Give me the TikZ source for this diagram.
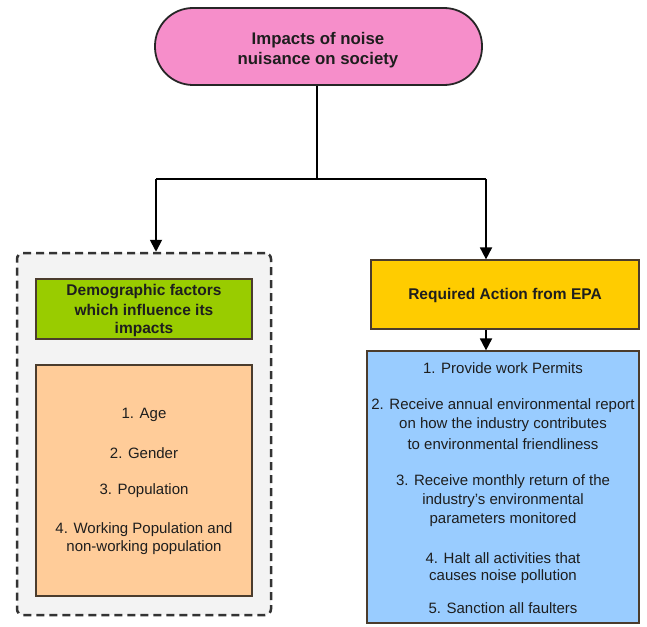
\documentclass[tikz,border=0pt]{standalone}
\usepackage{fontspec}
\setmainfont{Liberation Sans}
\usetikzlibrary{arrows.meta}
\definecolor{pinkfill}{RGB}{246,142,202}
\definecolor{greenfill}{RGB}{153,204,0}
\definecolor{orangefill}{RGB}{255,204,153}
\definecolor{yellowfill}{RGB}{255,204,0}
\definecolor{bluefill}{RGB}{153,204,255}
\definecolor{grayfill}{RGB}{243,243,243}
\definecolor{edge}{RGB}{75,60,45}
\definecolor{ink}{RGB}{30,30,30}
\tikzset{
  boxnode/.style={draw=edge, line width=1.2pt, inner sep=0pt},
  txt/.style={text=ink, font=\fontsize{15}{18}\selectfont, inner sep=0pt, anchor=center},
  btxt/.style={text=ink, font=\fontsize{15.5}{18}\selectfont\bfseries, inner sep=0pt, anchor=center},
  ptxt/.style={text=ink, font=\fontsize{16.8}{20}\selectfont\bfseries, inner sep=0pt, anchor=center},
  conn/.style={line width=1.8pt, draw=black},
  arr/.style={conn, -{Triangle[length=12pt,width=12pt]}},
}
\begin{document}
\begin{tikzpicture}[x=1pt,y=-1pt]
\useasboundingbox (0,0) rectangle (647,626);
% top pill
\node[draw=black!85, line width=1.8pt, fill=pinkfill, rounded corners=38pt,
      minimum width=327pt, minimum height=77pt, inner sep=0pt] (top) at (318.5,46.5) {};
\node[ptxt] (t1) at (318,40) {Impacts of noise};
\node[ptxt] (t2) at (318,60) {nuisance on society};
% dashed group
\node[draw=black!80, line width=2.5pt, dash pattern=on 8pt off 5pt, fill=grayfill,
      rounded corners=6pt, minimum width=254pt, minimum height=362pt, inner sep=0pt] (dash) at (144,434) {};
\node[boxnode, fill=greenfill, minimum width=216pt, minimum height=60pt] (demo) at (144,309) {};
\node[btxt] (d1) at (144,292) {Demographic factors};
\node[btxt] (d2) at (144,310) {which influence its};
\node[btxt] (d3) at (144,329) {impacts};
\node[boxnode, fill=orangefill, minimum width=216pt, minimum height=231pt] (fac) at (144,480.5) {};
\node[txt] (f1) at (144,415) {1. Age};
\node[txt] (f2) at (144,453) {2. Gender};
\node[txt] (f3) at (144,491) {3. Population};
\node[txt] (f4a) at (144,530) {4. Working Population and};
\node[txt] (f4b) at (144,548) {non-working population};
% right side
\node[boxnode, fill=yellowfill, minimum width=268pt, minimum height=69pt] (epa) at (505,294.5) {};
\node[btxt] (e1) at (505,295) {Required Action from EPA};
\node[boxnode, fill=bluefill, minimum width=272pt, minimum height=272pt] (act) at (503,487) {};
\node[txt] (a1) at (503,368) {1. Provide work Permits};
\node[txt] (a2a) at (503,406) {2. Receive annual environmental report};
\node[txt] (a2b) at (503,425) {on how the industry contributes};
\node[txt] (a2c) at (503,444) {to environmental friendliness};
\node[txt] (a3a) at (503,482) {3. Receive monthly return of the};
\node[txt] (a3b) at (503,501) {industry's environmental};
\node[txt] (a3c) at (503,520) {parameters monitored};
\node[txt] (a4a) at (503,558) {4. Halt all activities that};
\node[txt] (a4b) at (503,577) {causes noise pollution};
\node[txt] (a5) at (503,608) {5. Sanction all faulters};
% connectors
\coordinate (lt) at (156,179);
\coordinate (rt) at (486,179);
\draw[conn] (top.south -| 317,0) -- (317,179);
\draw[conn] (lt) -- (rt);
\draw[arr] (lt) -- (lt |- dash.north);
\draw[arr] (rt) -- (rt |- epa.north);
\draw[arr] (rt |- epa.south) -- (rt |- act.north);
\end{tikzpicture}
\end{document}
